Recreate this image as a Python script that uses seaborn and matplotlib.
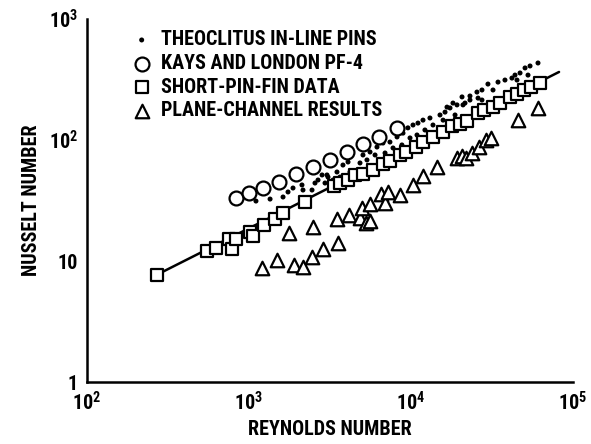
"""Nusselt number vs Reynolds number for pin-fin and channel data."""

import matplotlib
matplotlib.use("Agg")
import matplotlib.pyplot as plt
import matplotlib.ticker as mticker
import seaborn as sns

# Theoclitus in-line pins (small dots)
theo_re = [1104, 1349, 1622, 1741, 1869, 2123, 2154, 2449, 2555, 2667, 2825, 2946,
           3030, 3074, 3302, 3492, 3646, 3802, 4086, 4200, 4844, 5053, 5348, 5585,
           5998, 6166, 6715, 6914, 7413, 7745, 8200, 8790, 8925, 9570, 9860, 10290,
           10890, 11040, 11860, 12190, 13090, 13670, 15100, 15780, 16220, 16680,
           17410, 18160, 18700, 19230, 20650, 20940, 21540, 23120, 23120, 25530,
           25930, 27420, 27420, 29850, 32080, 34440, 38020, 41980, 43850, 45110,
           47100, 50580, 52750, 54300, 60800]
theo_nu = [31.3, 32.5, 33.8, 37.2, 40.1, 42.5, 38.6, 38.6, 44.1, 46.7, 51.4, 44.1,
           51.4, 49.4, 46.7, 54.4, 49.4, 62.1, 65.8, 54.4, 64.6, 75.2, 68.4, 79.6,
           75.2, 87.5, 94.4, 78.1, 96.2, 85.9, 106, 91.0, 114, 126, 104, 133,
           110, 138, 146, 121, 152, 133, 161, 146, 170, 187,
           184, 202, 161, 195, 227, 195, 202, 231, 214, 249,
           222, 259, 214, 290, 259, 301, 313, 325, 344, 313,
           358, 394, 344, 409, 433]

# Kays and London PF-4 (open circles)
kays_re = [832, 1000, 1220, 1530, 1950, 2480, 3160, 4030, 5060, 6340, 8200]
kays_nu = [33.2, 36.5, 40.1, 45.0, 52.4, 59.8, 68.4, 79.6, 92.7, 106, 126]

# short-pin-fin data (open squares)
pin_re = [270, 550, 626, 753, 785, 831, 1015, 1058, 1238, 1447, 1622, 2217,
          3347, 3646, 4086, 4511, 5053, 5825, 6715, 7413, 8544, 9306, 10740,
          11860, 13670, 15760, 17910, 20060, 22170, 25930, 28240, 32080, 35420,
          40840, 45110, 49850, 55080, 62550]
pin_nu = [7.66, 12.1, 12.8, 15.2, 12.6, 15.2, 17.4, 16.1, 19.8, 22.2, 24.9, 30.7,
          41.7, 44.1, 46.7, 51.4, 52.4, 56.5, 63.4, 67.0, 75.2, 79.6, 87.5,
          96.2, 106, 116, 131, 136, 144, 167, 177, 187, 202,
          227, 240, 259, 274, 296]

# plane-channel results (open triangles)
chan_re = [1202, 1489, 1896, 2154, 2449, 2864, 3542,
           1766, 2483, 3492, 4143, 4844, 4985, 5276, 5585, 5585, 6529, 6914,
           7211, 8550, 10290, 11860, 14450, 19230, 20650, 21870, 23820, 26300,
           29040, 31190, 45730, 60800]
chan_nu = [8.75, 10.2, 9.27, 8.92, 10.8, 12.6, 14.1,
           17.0, 19.1, 22.2, 24.0, 22.7, 27.4, 20.6, 21.4, 29.6, 35.8, 30.2,
           37.2, 35.1, 42.5, 50.4, 59.8, 71.0, 73.8, 71.0, 78.1, 87.5,
           100, 104, 146, 184]

# correlation line through the short-pin-fin data
corr_re = [270, 82000]
corr_nu = [7.7, 365]

x_ticks = [1e2, 1e3, 1e4, 1e5]
x_ticklabels = [r"$\mathregular{10^2}$", r"$\mathregular{10^3}$",
                r"$\mathregular{10^4}$", r"$\mathregular{10^5}$"]
y_ticks = [1, 10, 1e2, 1e3]
y_ticklabels = ["1", "10", r"$\mathregular{10^2}$", r"$\mathregular{10^3}$"]

sns.set_style("white")
FONT = ["Liberation Sans Narrow", "Roboto Condensed", "Roboto", "DejaVu Sans"]
plt.rcParams["font.family"] = FONT
plt.rcParams["font.size"] = 14.5
plt.rcParams["font.weight"] = "bold"
plt.rcParams["axes.labelweight"] = "bold"
plt.rcParams["mathtext.default"] = "regular"
for key in ["text.color", "axes.labelcolor", "xtick.color", "ytick.color"]:
    plt.rcParams[key] = "black"

fig = plt.figure(figsize=(5.91, 4.44), dpi=100)
ax = fig.add_axes([87 / 591, 62 / 444, 486 / 591, 363 / 444])

sns.lineplot(x=corr_re, y=corr_nu, ax=ax, color="black", linewidth=1.8,
             sort=False, estimator=None, zorder=2)

mk = dict(facecolor="white", edgecolor="black", linewidth=1.6, zorder=3, ax=ax)
sns.scatterplot(x=theo_re, y=theo_nu, marker="o", s=13, color="black",
                edgecolor="none", zorder=3, ax=ax, label="THEOCLITUS IN-LINE PINS")
sns.scatterplot(x=kays_re, y=kays_nu, marker="o", s=100,
                label="KAYS AND LONDON PF-4", **mk)
sns.scatterplot(x=pin_re, y=pin_nu, marker="s", s=85,
                label="SHORT-PIN-FIN DATA", **mk)
sns.scatterplot(x=chan_re, y=chan_nu, marker="^", s=95,
                label="PLANE-CHANNEL RESULTS", **mk)

ax.set_xscale("log")
ax.set_yscale("log")
ax.set_xlim(1e2, 1e5)
ax.set_ylim(1, 1e3)

ax.set_xticks(x_ticks)
ax.set_xticklabels(x_ticklabels, fontweight="bold")
ax.set_yticks(y_ticks)
ax.set_yticklabels(y_ticklabels, fontweight="bold")
ax.xaxis.set_minor_formatter(mticker.NullFormatter())
ax.yaxis.set_minor_formatter(mticker.NullFormatter())
ax.tick_params(which="major", direction="in", length=16, width=1.4,
               color="black", labelsize=14.5, pad=6.5)
ax.tick_params(which="minor", direction="in", length=10.5, width=1.4,
               color="black")

sns.despine(ax=ax)
for side in ["left", "bottom"]:
    ax.spines[side].set_linewidth(1.8)
    ax.spines[side].set_color("black")

ax.set_xlabel("REYNOLDS NUMBER", fontsize=14.5)
ax.set_ylabel("NUSSELT NUMBER", fontsize=14.5)
ax.xaxis.set_label_coords(0.5, -0.105)
ax.yaxis.set_label_coords(-0.095, 0.5)

ax.legend(loc="upper left", bbox_to_anchor=(0.0897, 0.969), frameon=False,
          borderaxespad=0, borderpad=0, handlelength=1.1, handletextpad=0.41,
          labelspacing=0.23, scatterpoints=1, fontsize=14.5)

fig.savefig("out.png", dpi=100)
